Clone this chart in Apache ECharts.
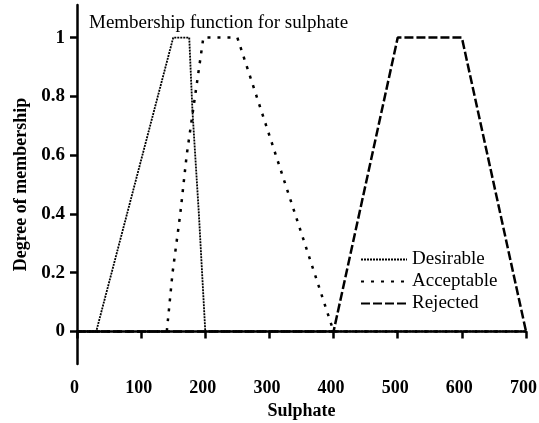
<!DOCTYPE html>
<html>
<head>
<meta charset="utf-8">
<script src="https://cdn.jsdelivr.net/npm/echarts@6/dist/echarts.min.js"></script>
<style>html,body{margin:0;padding:0;background:#fff}#c{width:539px;height:423px}</style>
</head>
<body>
<div id="c"></div>
<script>
const titleText = 'Membership function for sulphate';
const xName = 'Sulphate';
const yName = 'Degree of membership';
const seriesNames = ['Desirable', 'Acceptable', 'Rejected'];
const desirableX = [0, 30, 150, 175, 180, 190, 200, 700];
const desirableY = [0, 0, 1, 1, 0.75, 0.4, 0, 0];
const acceptableX = [0, 140, 149, 161, 171, 184, 197, 250, 400, 700];
const acceptableY = [0, 0, 0.2, 0.4, 0.6, 0.8, 1, 1, 0, 0];
const rejectedX = [0, 400, 500, 600, 700];
const rejectedY = [0, 0, 1, 1, 0];
const yTicks = [0, 0.2, 0.4, 0.6, 0.8, 1];

const font = 'Liberation Serif';
function pairs(xs, ys) { return xs.map((x, i) => [x, ys[i]]); }

const chart = echarts.init(document.getElementById('c'));
chart.setOption({
  animation: false,
  backgroundColor: '#fff',
  color: ['#000', '#000', '#000'],
  textStyle: { fontFamily: font, color: '#000' },
  title: {
    text: titleText, left: 84, top: 9,
    textStyle: { fontFamily: font, fontSize: 19, fontWeight: 'normal', color: '#000' }
  },
  legend: {
    left: 355, top: 245, orient: 'vertical',
    itemWidth: 46, itemHeight: 14, itemGap: 3,
    itemStyle: { color: 'rgba(0,0,0,0)', borderWidth: 0, opacity: 0 },
    textStyle: { fontFamily: font, fontSize: 19, color: '#000' },
    data: seriesNames
  },
  grid: { left: 77, right: 13, top: 5, bottom: 59, containLabel: false, outerBoundsMode: 'none' },
  xAxis: {
    type: 'value', min: 0, max: 700, interval: 100,
    name: xName, nameLocation: 'middle', nameGap: 38,
    nameTextStyle: { fontFamily: font, fontSize: 18, color: '#000', fontWeight: 'bold' },
    axisLine: { lineStyle: { color: '#000', width: 2.5 } },
    axisTick: { show: true, length: 7, inside: false, lineStyle: { color: '#000', width: 2.5 } },
    axisLabel: { fontFamily: font, fontSize: 18, fontWeight: 'bold', color: '#000', margin: 15, padding: [0, 5, 0, 0] },
    splitLine: { show: false }
  },
  yAxis: {
    type: 'value', min: -0.111, max: 1.111,
    name: yName, nameLocation: 'middle', nameGap: 45, nameRotate: 90,
    nameTextStyle: { fontFamily: font, fontSize: 18, color: '#000', fontWeight: 'bold' },
    axisLine: { show: true, lineStyle: { color: '#000', width: 2.5 } },
    axisTick: { show: true, length: 7, customValues: yTicks, lineStyle: { color: '#000', width: 2.5 } },
    axisLabel: { fontFamily: font, fontSize: 19, fontWeight: 'bold', color: '#000', margin: 12, customValues: yTicks },
    splitLine: { show: false }
  },
  series: [
    {
      name: seriesNames[0], type: 'line', symbol: 'circle', showSymbol: false, data: pairs(desirableX, desirableY),
      itemStyle: { color: '#000' },
      lineStyle: { color: '#000', width: 1.8, type: [2, 1] }, z: 3
    },
    {
      name: seriesNames[1], type: 'line', symbol: 'circle', showSymbol: false, data: pairs(acceptableX, acceptableY),
      itemStyle: { color: '#000' },
      lineStyle: { color: '#000', width: 2.5, type: [3, 7] }, z: 2
    },
    {
      name: seriesNames[2], type: 'line', symbol: 'circle', showSymbol: false, data: pairs(rejectedX, rejectedY),
      itemStyle: { color: '#000' },
      lineStyle: { color: '#000', width: 2.5, type: [9, 3] }, z: 1
    }
  ]
});
</script>
</body>
</html>
